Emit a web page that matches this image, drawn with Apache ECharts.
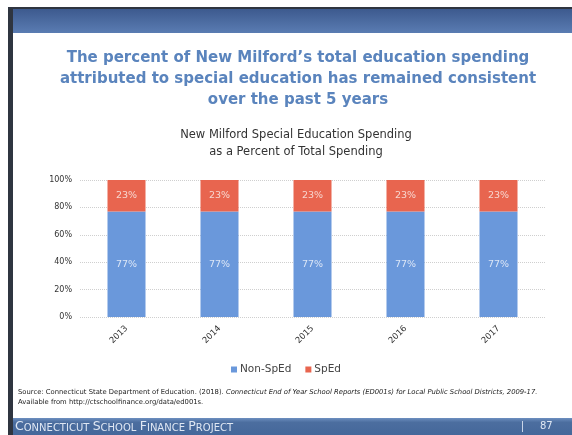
<!DOCTYPE html>
<html>
<head>
<meta charset="utf-8">
<script src="https://cdn.jsdelivr.net/npm/echarts@6/dist/echarts.min.js"></script>
<style>
  html, body { margin: 0; padding: 0; background: #ffffff; }
  #chart { width: 572px; height: 435px; }
</style>
</head>
<body>
<div id="chart"></div>
<script>
// Share of New Milford education spending, by school year
const years = ['2013', '2014', '2015', '2016', '2017'];
const nonSpEd = [77, 77, 77, 77, 77];
const spEd = [23, 23, 23, 23, 23];
const yTicks = [0, 20, 40, 60, 80, 100];

const BLUE = '#6a98db';
const RED = '#e8654f';
const FONT = '"DejaVu Sans", sans-serif';

const chart = echarts.init(document.getElementById('chart'), null, { renderer: 'canvas' });

chart.setOption({
  backgroundColor: '#ffffff',
  animation: false,
  graphic: [
    // slide frame: dark border, top banner, footer bar (kept beneath the plot)
    { type: 'rect', shape: { x: 8, y: 7, width: 564, height: 428 }, style: { fill: '#2f3540' }, z: -30 },
    { type: 'rect', shape: { x: 13, y: 9, width: 559, height: 24 },
      style: { fill: new echarts.graphic.LinearGradient(0, 0, 0, 1, [
        { offset: 0, color: '#3d5a8e' }, { offset: 1, color: '#5a7cb2' }]) }, z: -20 },
    { type: 'rect', shape: { x: 13, y: 33, width: 559, height: 385 }, style: { fill: '#ffffff' }, z: -20 },
    { type: 'rect', shape: { x: 13, y: 418, width: 559, height: 17 },
      style: { fill: new echarts.graphic.LinearGradient(0, 0, 0, 1, [
        { offset: 0, color: '#6d8fc0' }, { offset: 0.25, color: '#4c6e9f' }, { offset: 1, color: '#44679a' }]) }, z: -20 },
    { type: 'rect', shape: { x: 522, y: 421, width: 1, height: 11 }, style: { fill: '#c9d5e8' }, z: -10 },
    { type: 'text', left: 15, top: 420, z: 5,
      style: {
        text: '{b|C}{s|ONNECTICUT} {b|S}{s|CHOOL} {b|F}{s|INANCE} {b|P}{s|ROJECT}',
        rich: {
          b: { fontSize: 12.5, fill: '#dfe7f3', fontFamily: FONT, verticalAlign: 'bottom' },
          s: { fontSize: 10, fill: '#dfe7f3', fontFamily: FONT, verticalAlign: 'bottom' }
        }
      } },
    { type: 'text', left: 540, top: 421, z: 5,
      style: { text: '87', fontSize: 10, fill: '#dfe7f3', fontFamily: FONT } },
    // source note
    { type: 'text', left: 18, top: 389, z: 5,
      style: {
        text: '{n|Source: Connecticut State Department of Education. (2018). }{i|Connecticut End of Year School Reports (ED001s) for Local Public School Districts, 2009-17.}\n{n|Available from http://ctschoolfinance.org/data/ed001s.}',
        rich: {
          n: { fontSize: 6.8, fill: '#222222', fontFamily: FONT, lineHeight: 10 },
          i: { fontSize: 6.8, fill: '#222222', fontFamily: FONT, fontStyle: 'italic', lineHeight: 10 }
        }
      } }
  ],
  title: [
    {
      text: 'The percent of New Milford\u2019s total education spending\nattributed to special education has remained consistent\nover the past 5 years',
      left: 293, top: 43, textAlign: 'center',
      textStyle: { fontSize: 15, fontWeight: 'bold', color: '#5a84bd', fontFamily: FONT, lineHeight: 21 }
    },
    {
      text: 'New Milford Special Education Spending\nas a Percent of Total Spending',
      left: 291, top: 122, textAlign: 'center',
      textStyle: { fontSize: 11.5, fontWeight: 'normal', color: '#333333', fontFamily: FONT, lineHeight: 17 }
    }
  ],
  legend: {
    bottom: 55, left: 'center',
    itemWidth: 6, itemHeight: 6, itemGap: 14,
    icon: 'rect',
    textStyle: { fontSize: 10.5, color: '#444444', fontFamily: FONT, padding: [0, 0, 0, -2] },
    data: ['Non-SpEd', 'SpEd']
  },
  grid: { left: 80, right: 27, top: 180, bottom: 118, containLabel: false },
  xAxis: {
    type: 'category', data: years,
    axisLine: { show: false }, axisTick: { show: false },
    axisLabel: { rotate: 45, fontSize: 8.5, color: '#333333', fontFamily: FONT, margin: 10 }
  },
  yAxis: {
    type: 'value', min: yTicks[0], max: yTicks[yTicks.length - 1], interval: 20,
    axisLine: { show: false }, axisTick: { show: false },
    axisLabel: { formatter: '{value}%', fontSize: 8, color: '#333333', fontFamily: FONT, margin: 8 },
    splitLine: { lineStyle: { color: '#cfcfcf', type: 'dotted', width: 1 } }
  },
  series: [
    {
      name: 'Non-SpEd', type: 'bar', stack: 'total', data: nonSpEd, barWidth: 38,
      itemStyle: { color: BLUE },
      label: { show: true, position: 'inside', formatter: '{c}%', color: '#dce6f6', fontSize: 9.5, fontFamily: FONT }
    },
    {
      name: 'SpEd', type: 'bar', stack: 'total', data: spEd, barWidth: 38,
      itemStyle: { color: RED },
      label: { show: true, position: 'inside', formatter: '{c}%', color: '#f7d6cf', fontSize: 9.5, fontFamily: FONT }
    }
  ]
});
</script>
</body>
</html>
